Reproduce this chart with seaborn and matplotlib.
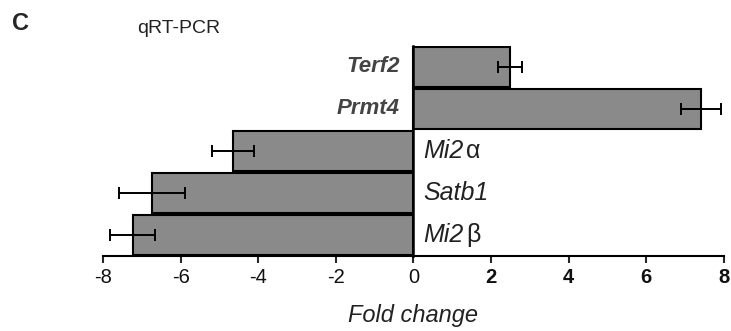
import numpy as np
import matplotlib
matplotlib.use('Agg')
import matplotlib.pyplot as plt
import seaborn as sns

# values (fold change, mean +/- error)
genes = ['Terf2', 'Prmt4', 'Mi2', 'Satb1', 'Mi2 ']
greek = ['', '', 'α', '', 'β']
fold = [2.48, 7.42, -4.65, -6.74, -7.23]
err = [0.31, 0.52, 0.54, 0.85, 0.58]
xticks = [-8, -6, -4, -2, 0, 2, 4, 6, 8]

sns.set_style('white')
plt.rcParams['font.family'] = ['Liberation Sans', 'DejaVu Sans']

fig = plt.figure(figsize=(7.31, 3.31), dpi=100)
ax = fig.add_axes([0.141, 0.227, 0.849, 0.634])

sns.barplot(x=fold, y=genes, order=genes, orient='h', color='#8a8a8a',
            saturation=1, edgecolor='black', linewidth=1.5, width=0.95, ax=ax)
ax.errorbar(fold, np.arange(len(genes)), xerr=err, fmt='none', ecolor='black',
            elinewidth=1.4, capsize=4, capthick=1.4, zorder=5)

ax.set_xlim(-8, 8)
ax.set_ylim(len(genes) - 0.5, -0.5)
ax.set_xticks(xticks)
ax.set_xticklabels([str(t) for t in xticks], fontsize=14.5, color='#111111')
for lab, t in zip(ax.get_xticklabels(), xticks):
    if t > 0:
        lab.set_fontweight('bold')
ax.tick_params(axis='x', direction='out', length=5, width=1.5, bottom=True, pad=4)
ax.set_yticks([])
ax.set_ylabel('')

for s in ['top', 'right']:
    ax.spines[s].set_visible(False)
ax.spines['left'].set_position(('data', 0))
ax.spines['left'].set_linewidth(1.8)
ax.spines['bottom'].set_linewidth(1.5)
ax.spines['left'].set_color('black')
ax.spines['bottom'].set_color('black')

# gene names next to the zero line
for i, (name, g, v) in enumerate(zip(genes, greek, fold)):
    if v > 0:
        ax.text(-0.35, i, name.strip(), ha='right', va='center', fontsize=16,
                style='italic', fontweight='bold', color='#444444')
    else:
        t = ax.text(0.25, i, name.strip(), ha='left', va='center', fontsize=18,
                    style='italic', color='#222222')
        if g:
            ax.annotate(g, xy=(1, 0.5), xycoords=t, xytext=(2, 0),
                        textcoords='offset points', ha='left', va='center',
                        fontsize=18, color='#222222')

ax.set_xlabel('Fold change', fontsize=17, style='italic', color='#222222', labelpad=12)

fig.text(0.016, 0.93, 'C', fontsize=17, fontweight='bold', va='center')
fig.text(0.187, 0.915, 'qRT-PCR', fontsize=14, va='center', color='#222222')

fig.savefig('out.png', dpi=100)
